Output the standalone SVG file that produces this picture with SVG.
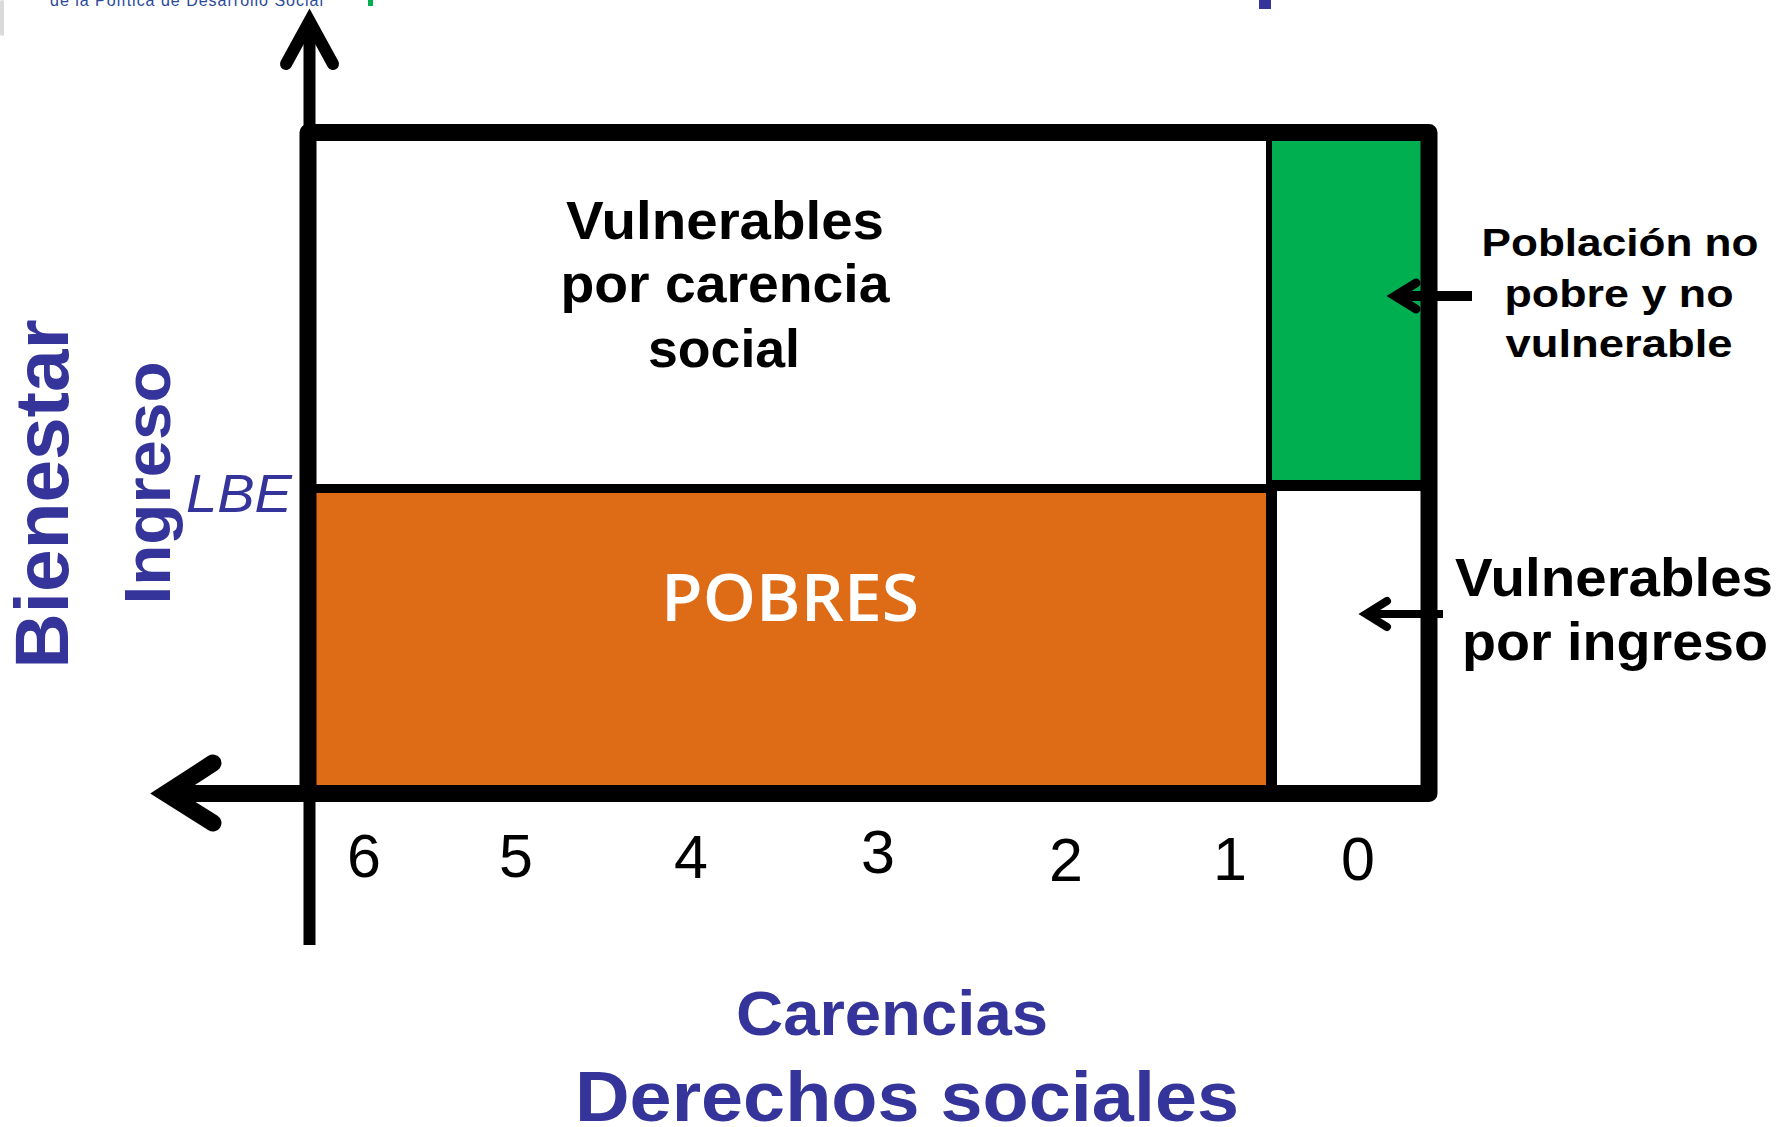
<svg xmlns="http://www.w3.org/2000/svg" width="1779" height="1127" viewBox="0 0 1779 1127">
<style>
.lbl{font-family:"Liberation Sans",Arial,sans-serif;font-weight:bold;fill:#000;text-anchor:middle}
.blue{font-family:"Liberation Sans",Arial,sans-serif;font-weight:bold;fill:#34349A;text-anchor:middle}
.num{font-family:"Liberation Sans",Arial,sans-serif;font-size:61px;fill:#000;text-anchor:middle}
.ax{fill:none;stroke:#000;stroke-linecap:round;stroke-linejoin:miter}
</style>
<rect x="0" y="0" width="1779" height="1127" fill="#fff"/>
<g id="header-fragments">
<rect x="0" y="0" width="4" height="36" rx="2" fill="#DADADA"/>
<text x="50" y="6" font-family="Liberation Sans,Arial,sans-serif" font-size="16" fill="#2B4A9B" textLength="273" lengthAdjust="spacing">de la Política de Desarrollo Social</text>
<rect x="368" y="0" width="5" height="6" fill="#00B050"/>
<rect x="1259" y="0" width="12" height="9" fill="#34349A"/>
</g>
<g id="region-vulnerables-carencia">
<rect x="316" y="141" width="950" height="343" fill="#fff"/>
<text class="lbl" font-size="54" x="725" y="239" textLength="318" lengthAdjust="spacingAndGlyphs">Vulnerables</text>
<text class="lbl" font-size="54" x="725" y="302" textLength="329" lengthAdjust="spacingAndGlyphs">por carencia</text>
<text class="lbl" font-size="54" x="724" y="367" textLength="152" lengthAdjust="spacingAndGlyphs">social</text>
</g>
<g id="region-pobres">
<rect x="316" y="488" width="951" height="297" fill="#DE6B16"/>
<text x="790" y="621" font-family="'Open Sans','Liberation Sans',sans-serif" font-weight="600" font-size="66" fill="#fff" text-anchor="middle" textLength="258" lengthAdjust="spacingAndGlyphs">POBRES</text>
</g>
<g id="region-no-pobre">
<rect x="1270" y="140" width="152" height="342" fill="#00AF50"/>
</g>
<g id="region-vulnerables-ingreso">
<rect x="1277" y="491" width="144" height="293" fill="#fff"/>
</g>
<g id="frame">
<rect x="310" y="484" width="958" height="9" fill="#000"/>
<rect x="1266" y="480" width="160" height="11" fill="#000"/>
<rect x="1266" y="135" width="6" height="350" fill="#000"/>
<rect x="1266" y="485" width="11" height="305" fill="#000"/>
<rect x="308" y="132.5" width="1121" height="661" fill="none" stroke="#000" stroke-width="17" stroke-linejoin="round"/>
</g>
<g id="connectors">
<line x1="309.5" y1="20" x2="309.5" y2="945" stroke="#000" stroke-width="12"/>
<polyline class="ax" points="286,64 309.5,21 333,64" stroke-width="12"/>
<line x1="165" y1="793.5" x2="310" y2="793.5" stroke="#000" stroke-width="17"/>
<polyline class="ax" points="213,763 166,793.5 213,823" stroke-width="17"/>
<line x1="1396" y1="296" x2="1472" y2="296" stroke="#000" stroke-width="10"/>
<polyline class="ax" points="1416,283 1395,296 1416,309" stroke-width="9"/>
<line x1="1366" y1="614" x2="1443" y2="614" stroke="#000" stroke-width="8"/>
<polyline class="ax" points="1387,601 1366,614 1387,627" stroke-width="8"/>
</g>
<g id="label-poblacion">
<text class="lbl" font-size="39" x="1620" y="256" textLength="277" lengthAdjust="spacingAndGlyphs">Población no</text>
<text class="lbl" font-size="39" x="1619" y="307" textLength="229" lengthAdjust="spacingAndGlyphs">pobre y no</text>
<text class="lbl" font-size="39" x="1619" y="357" textLength="227" lengthAdjust="spacingAndGlyphs">vulnerable</text>
</g>
<g id="label-vulnerables-ingreso">
<text class="lbl" font-size="54" x="1614" y="596" textLength="318" lengthAdjust="spacingAndGlyphs">Vulnerables</text>
<text class="lbl" font-size="54" x="1615" y="660" textLength="306" lengthAdjust="spacingAndGlyphs">por ingreso</text>
</g>
<g id="axis-numbers">
<text class="num" x="364" y="877">6</text>
<text class="num" x="516" y="877">5</text>
<text class="num" x="691" y="878">4</text>
<text class="num" x="878" y="873">3</text>
<text class="num" x="1066" y="881">2</text>
<text class="num" x="1230" y="880">1</text>
<text class="num" x="1358" y="880">0</text>
</g>
<g id="axis-labels">
<text class="blue" font-size="76" transform="translate(68,494) rotate(-90)" x="0" y="0" textLength="349" lengthAdjust="spacingAndGlyphs">Bienestar</text>
<text class="blue" font-size="65" transform="translate(170,483) rotate(-90)" x="0" y="0" textLength="243" lengthAdjust="spacingAndGlyphs">Ingreso</text>
<text x="186" y="512" font-family="'Liberation Sans',Arial,sans-serif" font-style="italic" font-size="54" fill="#34349A" textLength="106" lengthAdjust="spacingAndGlyphs">LBE</text>
<text class="blue" font-size="63" x="892" y="1035" textLength="312" lengthAdjust="spacingAndGlyphs">Carencias</text>
<text class="blue" font-size="71" x="907" y="1121" textLength="664" lengthAdjust="spacingAndGlyphs">Derechos sociales</text>
</g>
</svg>
